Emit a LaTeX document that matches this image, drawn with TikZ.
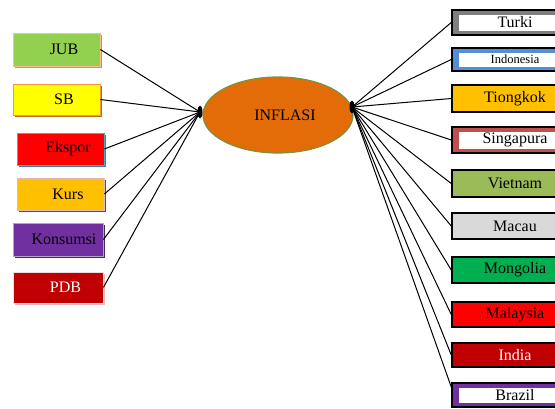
\documentclass[tikz,border=0pt]{standalone}
\usepackage{fontspec}
\setmainfont{Liberation Serif}
\usetikzlibrary{shapes.geometric,shadows}
\definecolor{cJub}{HTML}{92D050}\definecolor{cJubB}{HTML}{FAC090}\definecolor{cJubS}{HTML}{B8956A}
\definecolor{cSb}{HTML}{FFFF00}\definecolor{cSbB}{HTML}{F79646}\definecolor{cSbS}{HTML}{B86A2A}
\definecolor{cEks}{HTML}{FF0000}\definecolor{cEksB}{HTML}{4BACC6}\definecolor{cEksS}{HTML}{31859C}
\definecolor{cKurs}{HTML}{FFC000}\definecolor{cKursB}{HTML}{E6B9B8}\definecolor{cKursS}{HTML}{943634}
\definecolor{cKon}{HTML}{7030A0}\definecolor{cKonB}{HTML}{B3A2C7}\definecolor{cKonS}{HTML}{3F3151}
\definecolor{cPdb}{HTML}{C00000}\definecolor{cPdbB}{HTML}{F2DCDB}\definecolor{cPdbS}{HTML}{E6B9B8}
\definecolor{cOval}{HTML}{E36C09}\definecolor{cOvalB}{HTML}{77933C}
\definecolor{cGray}{HTML}{7F7F7F}\definecolor{cBlue}{HTML}{558ED5}\definecolor{cOrg}{HTML}{FFC000}
\definecolor{cSing}{HTML}{C0504D}\definecolor{cViet}{HTML}{9BBB59}\definecolor{cMac}{HTML}{D9D9D9}
\definecolor{cMon}{HTML}{00B050}\definecolor{cMal}{HTML}{FF0000}\definecolor{cInd}{HTML}{C00000}
\definecolor{cBra}{HTML}{7030A0}
\tikzset{
  tsh/.initial=15pt,
  txt/.style={font=\fontsize{16}{18}\selectfont},
  lbox/.style n args={3}{rectangle, txt, fill=#1, draw=#2, line width=0.8pt,
     drop shadow={fill=#3, opacity=1, shadow xshift=2pt, shadow yshift=-2pt},
     minimum width=88pt, minimum height=32pt, inner sep=0pt,
     execute at begin node=\hspace*{\pgfkeysvalueof{/tikz/tsh}}},
  rbox/.style={rectangle, txt, fill=#1, draw=black, line width=1.5pt,
     minimum width=126pt, minimum height=26pt, inner sep=0pt},
  fbox/.style={rbox=#1, path picture={\fill[white]
     ([xshift=7pt,yshift=-4.5pt]path picture bounding box.north west) rectangle
     ([xshift=-7pt,yshift=4.5pt]path picture bounding box.south east);}},
  hub/.style={ellipse, fill=black, minimum width=5pt, minimum height=13pt, inner sep=0pt},
  conn/.style={draw=black, line width=1pt}
}
\begin{document}
\begin{tikzpicture}[x=1pt,y=-1pt]
\useasboundingbox (0,0) rectangle (555,408);
\begin{scope}
\clip (0,0) rectangle (555,408);
% left boxes
\node[lbox={cJub}{cJubB}{cJubS}, minimum width=87pt, minimum height=33pt] (jub) at (56.5,49.5) {JUB};
\node[lbox={cSb}{cSbB}{cSbS}, minimum width=87pt, minimum height=31pt] (sb) at (56.5,99.5) {SB};
\node[lbox={cEks}{cEksB}{cEksS}, minimum width=87pt, minimum height=32pt] (eks) at (60.5,149) {Ekspor};
\node[lbox={cKurs}{cKursB}{cKursS}, minimum width=87pt, minimum height=32pt] (kurs) at (60.5,194) {Kurs};
\node[lbox={cKon}{cKonB}{cKonS}, minimum width=90pt, minimum height=33pt, tsh=12pt] (kon) at (58,239.5) {Konsumsi};
\node[lbox={cPdb}{cPdbB}{cPdbS}, minimum width=90pt, minimum height=31pt, text=white] (pdb) at (58,287.5) {PDB};
% central ellipse
\node[ellipse, txt, fill=cOval, draw=cOvalB, line width=1.2pt, minimum width=150pt, minimum height=76pt,
      inner sep=0pt, execute at begin node=\hspace*{14pt}] (inf) at (278,115) {INFLASI};
\node[hub] (lh) at (200,112) {};
\node[hub] (rh) at (352,107) {};
% right boxes
\node[fbox=cGray, minimum height=25pt] (tur) at (515,22.5) {Turki};
\node[fbox=cBlue, minimum height=23pt, font=\fontsize{12.5}{13}\selectfont] (indo) at (515,59.5) {Indonesia};
\node[rbox=cOrg, minimum height=27pt] (tio) at (515,98.5) {Tiongkok};
\node[fbox=cSing] (sing) at (515,140) {Singapura};
\node[rbox=cViet, minimum height=27pt] (viet) at (515,183.5) {Vietnam};
\node[rbox=cMac] (mac) at (515,226) {Macau};
\node[rbox=cMon] (mon) at (515,270) {Mongolia};
\node[rbox=cMal, minimum height=25pt] (mal) at (515,314.5) {Malaysia};
\node[rbox=cInd, minimum height=24pt, text=white] (ind) at (515,355) {India};
\node[fbox=cBra, minimum height=24pt] (bra) at (515,395) {Brazil};
% connectors
\foreach \b in {jub,sb,eks,kurs,kon,pdb}
  \draw[conn] (\b.east) -- (lh.center);
\foreach \b in {tur,indo,tio,sing,viet,mac,mon,mal,ind}
  \draw[conn] (rh.center) -- (\b.west);
\draw[conn] (rh.center) -- ([yshift=8pt]bra.west);
\end{scope}
\end{tikzpicture}
\end{document}
